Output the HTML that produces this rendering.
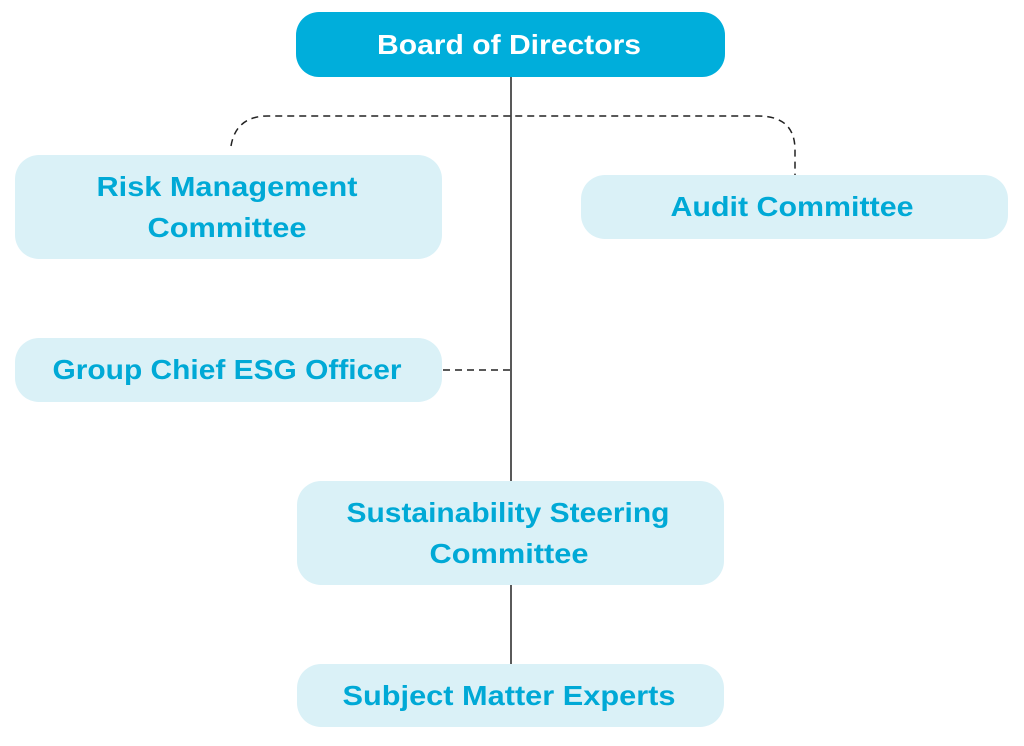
<!DOCTYPE html>
<html><head><meta charset="utf-8"><style>
html,body{margin:0;padding:0;background:#fff;width:1024px;height:746px;overflow:hidden}
text{font-family:"Liberation Sans",Arial,sans-serif;font-weight:bold;font-size:28px;text-anchor:middle}
</style></head><body>
<svg width="1024" height="746" viewBox="0 0 1024 746" xmlns="http://www.w3.org/2000/svg">
<g stroke="#222" stroke-width="1.5" fill="none">
<line x1="511" y1="77" x2="511" y2="481"/>
<line x1="511" y1="585" x2="511" y2="664"/>
<path d="M231 146 Q236 116 268 116 L758 116 Q795 116 795 150 L795 175" stroke-dasharray="7,5"/>
<line x1="443" y1="370" x2="511" y2="370" stroke-dasharray="7,5"/>
</g>
<rect x="296" y="12" width="429" height="65" rx="23" fill="#00aedb"/>
<g fill="#daf1f7">
<rect x="15" y="155" width="427" height="104" rx="24"/>
<rect x="581" y="175" width="427" height="64" rx="24"/>
<rect x="15" y="338" width="427" height="64" rx="24"/>
<rect x="297" y="481" width="427" height="104" rx="24"/>
<rect x="297" y="664" width="427" height="63" rx="24"/>
</g>
<text x="509" y="54" fill="#fff" textLength="264" lengthAdjust="spacingAndGlyphs">Board of Directors</text>
<g fill="#00a9d6">
<text x="227" y="196" textLength="261" lengthAdjust="spacingAndGlyphs">Risk Management</text>
<text x="227" y="237" textLength="159" lengthAdjust="spacingAndGlyphs">Committee</text>
<text x="792" y="216" textLength="243" lengthAdjust="spacingAndGlyphs">Audit Committee</text>
<text x="227" y="379" textLength="349" lengthAdjust="spacingAndGlyphs">Group Chief ESG Officer</text>
<text x="508" y="522" textLength="323" lengthAdjust="spacingAndGlyphs">Sustainability Steering</text>
<text x="509" y="563" textLength="159" lengthAdjust="spacingAndGlyphs">Committee</text>
<text x="509" y="705" textLength="333" lengthAdjust="spacingAndGlyphs">Subject Matter Experts</text>
</g>
</svg>
</body></html>
